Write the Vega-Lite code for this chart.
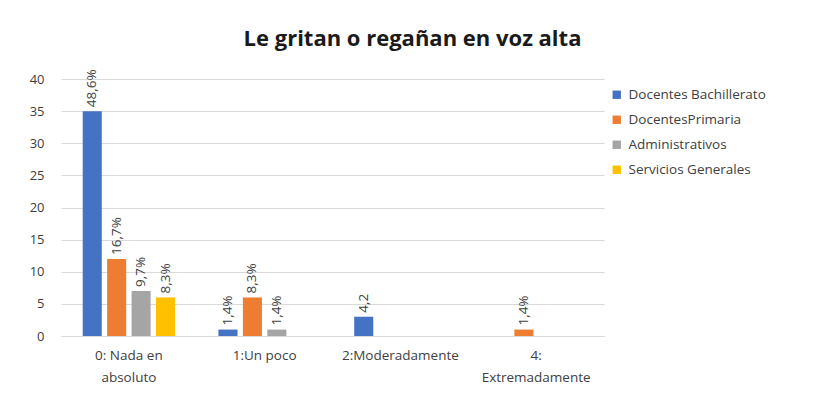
{
  "$schema": "https://vega.github.io/schema/vega-lite/v6.json",
  "width": 543,
  "height": 257,
  "autosize": {"type": "none"},
  "padding": {"left": 61, "top": 79, "right": 210, "bottom": 74},
  "background": "white",
  "config": {
    "font": "Open Sans",
    "view": {"stroke": null},
    "axis": {"labelFont": "Open Sans", "labelColor": "#404040", "labelFontSize": 13}
  },
  "title": {
    "text": "Le gritan o regañan en voz alta",
    "font": "Open Sans",
    "fontSize": 22,
    "fontWeight": "bold",
    "color": "#1a1a1a",
    "anchor": "middle",
    "dx": 80,
    "offset": 18
  },
  "data": {
    "values": [
      {"cat": "0: Nada en|absoluto", "serie": "Docentes Bachillerato", "valor": 35, "etiqueta": "48,6%"},
      {"cat": "0: Nada en|absoluto", "serie": "DocentesPrimaria", "valor": 12, "etiqueta": "16,7%"},
      {"cat": "0: Nada en|absoluto", "serie": "Administrativos", "valor": 7, "etiqueta": "9,7%"},
      {"cat": "0: Nada en|absoluto", "serie": "Servicios Generales", "valor": 6, "etiqueta": "8,3%"},
      {"cat": "1:Un poco", "serie": "Docentes Bachillerato", "valor": 1, "etiqueta": "1,4%"},
      {"cat": "1:Un poco", "serie": "DocentesPrimaria", "valor": 6, "etiqueta": "8,3%"},
      {"cat": "1:Un poco", "serie": "Administrativos", "valor": 1, "etiqueta": "1,4%"},
      {"cat": "2:Moderadamente", "serie": "Docentes Bachillerato", "valor": 3, "etiqueta": "4,2"},
      {"cat": "4:|Extremadamente", "serie": "DocentesPrimaria", "valor": 1, "etiqueta": "1,4%"}
    ]
  },
  "encoding": {
    "x": {
      "field": "cat",
      "type": "nominal",
      "sort": ["0: Nada en|absoluto", "1:Un poco", "2:Moderadamente", "4:|Extremadamente"],
      "scale": {"paddingInner": 0.28, "paddingOuter": 0.14},
      "axis": {
        "title": null,
        "labelAngle": 0,
        "labelExpr": "split(datum.label, '|')",
        "labelPadding": 12,
        "labelLineHeight": 22,
        "labelFontSize": 13.5,
        "ticks": false,
        "domainColor": "#d9d9d9",
        "labelBaseline": "top"
      }
    },
    "xOffset": {
      "field": "serie",
      "type": "nominal",
      "sort": ["Docentes Bachillerato", "DocentesPrimaria", "Administrativos", "Servicios Generales"],
      "scale": {"paddingInner": 0.22, "paddingOuter": 0.11}
    },
    "y": {
      "field": "valor",
      "type": "quantitative",
      "scale": {"domain": [0, 40]},
      "axis": {
        "title": null,
        "values": [0, 5, 10, 15, 20, 25, 30, 35, 40],
        "domain": false,
        "ticks": false,
        "gridColor": "#d9d9d9",
        "labelPadding": 17
      }
    }
  },
  "layer": [
    {
      "mark": {"type": "bar"},
      "encoding": {
        "color": {
          "field": "serie",
          "type": "nominal",
          "sort": ["Docentes Bachillerato", "DocentesPrimaria", "Administrativos", "Servicios Generales"],
          "scale": {
            "domain": ["Docentes Bachillerato", "DocentesPrimaria", "Administrativos", "Servicios Generales"],
            "range": ["#4472C4", "#ED7D31", "#A5A5A5", "#FFC000"]
          },
          "legend": {
            "title": null,
            "orient": "none",
            "legendX": 549,
            "legendY": 9,
            "symbolType": "square",
            "symbolSize": 70,
            "symbolStrokeWidth": 0,
            "labelFontSize": 13.5,
            "labelColor": "#404040",
            "labelFont": "Open Sans",
            "rowPadding": 10,
            "labelOffset": 5
          }
        }
      }
    },
    {
      "mark": {
        "type": "text",
        "angle": 270,
        "align": "left",
        "baseline": "middle",
        "dx": 4,
        "fontSize": 13.5,
        "color": "#404040"
      },
      "encoding": {"text": {"field": "etiqueta"}}
    }
  ]
}
